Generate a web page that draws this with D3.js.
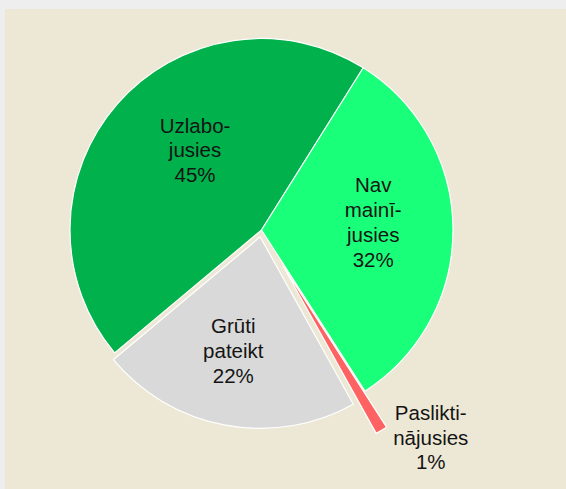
<!DOCTYPE html>
<html>
<head>
<meta charset="utf-8">
<script src="https://cdn.jsdelivr.net/npm/d3@7"></script>
<style>
  html, body { margin: 0; padding: 0; background: #eeeeee; }
  svg { display: block; }
</style>
</head>
<body>
<svg id="chart" width="566" height="489"></svg>
<script>
// ---- data ----
const categories = ["Uzlabojusies", "Nav mainījusies", "Pasliktinājusies", "Grūti pateikt"];
const values = [45, 32, 1, 22];
const labelLines = [["Uzlabo-", "jusies"], ["Nav", "mainī-", "jusies"], ["Paslikti-", "nājusies"], ["Grūti", "pateikt"]];
const colors = ["#00b14c", "#1aff7a", "#ff6262", "#d9d9d9"];

// ---- layout ----
const W = 566, H = 489;
const cx = 261.5, cy = 230, R = 191.5;
const deg = Math.PI / 180;
const explode = [0, 0, 42, 7];
const labelAngleShift = [9.2, -3.8, -9.9, 2.8];
const labelRadius = [104, 112, 226, 117];
const lineH = 24.8;

const svg = d3.select("#chart");
svg.append("rect").attr("x", 5).attr("y", 9).attr("width", W - 5).attr("height", H - 9).attr("fill", "#ede8d5");

const pie = d3.pie().sort(null).value(d => d)
  .startAngle(230.1 * deg).endAngle(230.1 * deg + 2 * Math.PI);
const arcs = pie(values);
const arc = d3.arc().innerRadius(0).outerRadius(R);

const g = svg.append("g").attr("transform", `translate(${cx},${cy})`);

function polar(a, r) { return [Math.sin(a) * r, -Math.cos(a) * r]; }

arcs.forEach((a, i) => {
  const mid = (a.startAngle + a.endAngle) / 2;
  const [ox, oy] = polar(mid, explode[i]);
  g.append("path")
    .attr("d", arc(a))
    .attr("transform", `translate(${ox},${oy})`)
    .attr("fill", colors[i])
    .attr("stroke", "#ffffff")
    .attr("stroke-width", 1.2)
    .attr("stroke-linejoin", "round");
});

arcs.forEach((a, i) => {
  const mid = (a.startAngle + a.endAngle) / 2;
  const [ox, oy] = polar(mid, explode[i]);
  const [lx, ly] = polar(mid + labelAngleShift[i] * deg, labelRadius[i]);
  const lines = labelLines[i].concat([values[i] + "%"]);
  const n = lines.length;
  const x = ox + lx, yc = oy + ly;
  const firstBase = yc - (lineH * (n - 1) - 15) / 2;
  const t = g.append("text")
    .attr("text-anchor", "middle")
    .attr("font-family", "'Liberation Sans', Arial, sans-serif")
    .attr("font-size", "20.5px")
    .attr("fill", "#141414");
  lines.forEach((s, k) => {
    t.append("tspan").attr("x", x).attr("y", firstBase + k * lineH).text(s);
  });
});
</script>
</body>
</html>
